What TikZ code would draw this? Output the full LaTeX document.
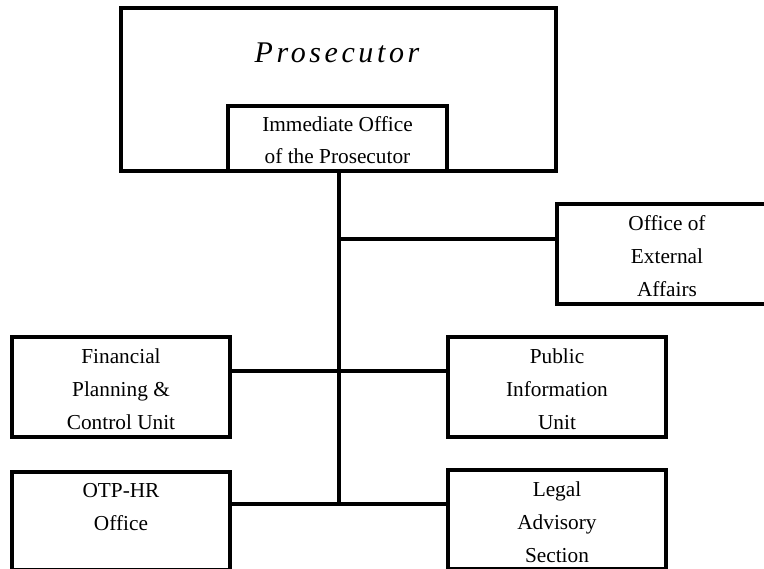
\documentclass[tikz,border=0pt]{standalone}
\usepackage{fontspec}
\setmainfont{Liberation Serif}
\newfontfamily\titlefont[LetterSpace=12]{Liberation Serif}
\begin{document}
\begin{tikzpicture}[x=1pt,y=-1pt,
  unitbox/.style={draw, line width=4pt, rectangle, inner sep=0pt, outer sep=0pt},
  wire/.style={line width=4pt},
  lbl/.style={anchor=north, inner sep=0pt, align=center,
    font=\fontsize{21.3}{33}\selectfont},
  ]
  \useasboundingbox (0,0) rectangle (764,569);

  % Prosecutor and the immediate office
  \node[unitbox, minimum width=435pt, minimum height=163pt] (pros) at (338.5,89.5) {};
  \node[anchor=base, inner sep=0pt, font=\titlefont\itshape\fontsize{30}{36}\selectfont]
    (prostext) at (337,63) {Prosecutor};
  \node[unitbox, minimum width=219pt, minimum height=65pt] (iop) at (337.5,138.5) {};
  \node[lbl, font=\fontsize{21.3}{32}\selectfont] (ioptext) at (iop.north)
    {\rule{0pt}{25pt}Immediate Office\\of the Prosecutor};

  % Units reporting to the immediate office
  \node[unitbox, minimum width=220pt, minimum height=100pt] (oea) at (667,254) {};
  \node[lbl] (oeatext) at (oea.north) {\rule{0pt}{26pt}Office of\\External\\Affairs};

  \node[unitbox, minimum width=218pt, minimum height=100pt] (fin) at (121,387) {};
  \node[lbl] (fintext) at (fin.north) {\rule{0pt}{26pt}Financial\\Planning \&\\Control Unit};

  \node[unitbox, minimum width=218pt, minimum height=100pt] (pub) at (557,387) {};
  \node[lbl] (pubtext) at (pub.north) {\rule{0pt}{26pt}Public\\Information\\Unit};

  % the two lowest boxes run down to the lower edge
  \node[unitbox, minimum width=218pt, minimum height=98pt] (otp) at (121,521) {};
  \node[lbl] (otptext) at (otp.north) {\rule{0pt}{25pt}OTP-HR\\Office};

  \node[unitbox, minimum width=218pt, minimum height=99pt] (legal) at (557,519.5) {};
  \node[lbl] (legaltext) at (legal.north) {\rule{0pt}{26pt}Legal\\Advisory\\Section};

  % Trunk and branches
  \coordinate (trunktop) at (339,171);
  \coordinate (j1) at (339,239);
  \coordinate (j2) at (339,371);
  \coordinate (j3) at (339,504);
  \draw[wire] (trunktop) -- (j3);
  \draw[wire] (j1) -- (j1 -| oea.west);
  \draw[wire] (j2 -| fin.east) -- (j2 -| pub.west);
  \draw[wire] (j3 -| otp.east) -- (j3 -| legal.west);
\end{tikzpicture}
\end{document}
